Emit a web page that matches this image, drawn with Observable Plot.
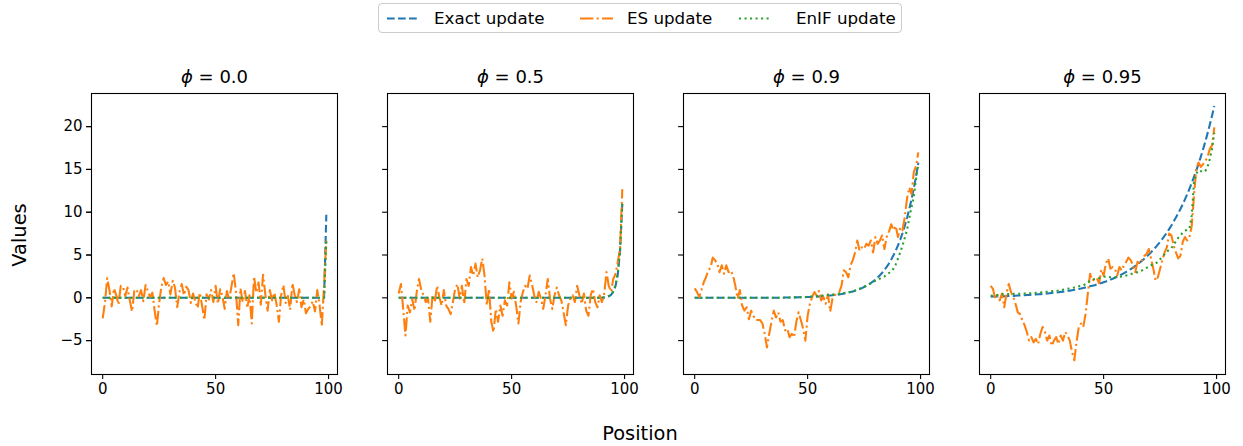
<!DOCTYPE html>
<html>
<head>
<meta charset="utf-8">
<script src="https://cdn.jsdelivr.net/npm/d3@7"></script>
<script src="https://cdn.jsdelivr.net/npm/@observablehq/plot@0.6"></script>
<style>
  body { margin: 0; background: #fff; font-family: "DejaVu Sans", sans-serif; }
  #wrap { position: relative; width: 1243px; height: 446px; }
  #legend { position: absolute; left: 378px; top: 3px; width: 524px; height: 30px; box-sizing: border-box;
            border: 1px solid #cccccc; border-radius: 4px; background: #fff; font-size: 16.7px; color: #000; }
  .lg-item { position: absolute; top: 0; height: 28px; line-height: 28px; white-space: nowrap; }
  .lbl { position: absolute; font-size: 19.4px; color: #000; white-space: nowrap; }
</style>
</head>
<body>
<div id="wrap"></div>
<script>
// ---- categories ----
const phis = ["0.0", "0.5", "0.9", "0.95"];
const seriesNames = ["Exact update", "ES update", "EnIF update"];
const seriesColors = ["#1f77b4", "#ff7f0e", "#2ca02c"];
const xTicks = [0, 50, 100];
const yTicks = [-5, 0, 5, 10, 15, 20];

// ---- phi = 0.0 ----
const exact0 = [0,0,0,0,0,0,0,0,0,0, 0,0,0,0,0,0,0,0,0,0, 0,0,0,0,0,0,0,0,0,0, 0,0,0,0,0,0,0,0,0,0, 0,0,0,0,0,0,0,0,0,0,
  0,0,0,0,0,0,0,0,0,0, 0,0,0,0,0,0,0,0,0,0, 0,0,0,0,0,0,0,0,0,0, 0,0,0,0,0,0,0,0,0,0, 0,0,0,0,0,0,0,0,0,9.7];
const es0 = [-2.4,-0.6,2.3,0.9,-1.0,1.1,0.3,-0.8,1.4,1.3,
  0.2,1.2,-0.3,-1.6,0.8,1.0,0.2,0.9,-0.4,1.5,
  0.8,0.1,0.6,-1.5,-3.3,-0.6,1.3,2.3,1.5,1.9,
  0.4,2.0,1.2,-1.1,0.7,1.6,0.3,1.3,0.9,-0.6,
  0.5,-0.4,-1.2,0.6,-0.9,-2.6,0.4,-0.2,0.9,-0.5,
  1.4,-0.7,1.0,0.2,-1.3,0.8,-0.2,1.3,2.9,0.7,
  -3.2,1.1,-0.5,0.8,-1.2,0.3,-3.0,2.5,0.6,1.8,
  -0.8,2.7,0.4,-1.5,0.9,-0.3,0.6,-0.8,-2.8,0.3,
  1.5,-0.6,0.2,-1.4,1.7,0.3,-0.5,1.0,-1.1,-0.2,
  -1.8,-1.3,-1.0,-0.4,-1.6,0.9,-0.8,-3.3,1.5,6.7];
const enif0 = [0,0,0,0,0,0,0,0,0,0, 0,0,0,0,0,0,0,0,0,0, 0,0,0,0,0,0,0,0,0,0, 0,0,0,0,0,0,0,0,0,0, 0,0,0,0,0,0,0,0,0,0,
  0,0,0,0,0,0,0,0,0,0, 0,0,0,0,0,0,0,0,0,0, 0,0,0,0,0,0,0,0,0,0, 0,0,0,0,0,0,0,0,0,0, 0,0,0,0,0,0,0,0,0,6.6];

// ---- phi = 0.5 ----
const exact1 = [0,0,0,0,0,0,0,0,0,0, 0,0,0,0,0,0,0,0,0,0, 0,0,0,0,0,0,0,0,0,0, 0,0,0,0,0,0,0,0,0,0, 0,0,0,0,0,0,0,0,0,0,
  0,0,0,0,0,0,0,0,0,0, 0,0,0,0,0,0,0,0,0,0, 0,0,0,0,0,0,0,0,0,0, 0,0,0,0,0,0,0,0,0,0.01, 0.02,0.04,0.09,0.17,0.34,0.69,1.38,2.75,5.5,11.0];
const es1 = [0.5,1.6,-1.3,-4.4,-0.9,-1.7,-0.1,-1.5,0.7,2.2,
  0.9,0.3,-0.5,-0.1,-2.8,0.3,-0.5,1.4,0.1,-0.9,
  0.9,-0.9,-1.3,-1.9,-0.5,1.05,1.6,-0.1,1.4,-0.7,
  2.2,1.4,3.6,2.6,4.0,2.4,3.2,4.6,2.6,-0.9,
  1.05,-2.8,-4.0,-1.3,-2.8,-0.9,-2.1,-0.3,-0.9,1.8,
  -0.1,0.7,-0.9,-3.0,-0.5,0.7,1.4,1.05,2.6,1.6,
  0.3,-0.5,0.7,-0.1,-1.3,0.3,2.2,-0.1,-1.3,0.3,
  1.2,0.3,-0.3,-1.7,-3.2,-0.9,-0.1,0.3,-0.5,1.4,
  0.3,-0.7,0.5,-1.5,-2.1,0.3,1.05,-0.5,-1.1,0.3,
  -0.5,0.5,3.0,1.4,0.7,2.2,2.8,4.2,5.7,12.7];
const enif1 = [0,0,0,0,0,0,0,0,0,0, 0,0,0,0,0,0,0,0,0,0, 0,0,0,0,0,0,0,0,0,0, 0,0,0,0,0,0,0,0,0,0, 0,0,0,0,0,0,0,0,0,0,
  0,0,0,0,0,0,0,0,0,0, 0,0,0,0,0,0,0,0,0,0, 0,0,0,0,0,0,0,0,0,0, 0,0,0,0,0,0,0,0,0,0.01, 0.03,0.05,0.1,0.2,0.4,0.8,1.5,2.9,5.7,11.2];

// ---- phi = 0.9 ----
const exact2 = [0,0,0,0,0,0,0,0,0,0, 0,0,0,0,0,0,0,0,0,0, 0,0,0,0,0,0,0,0,0,0, 0,0,0,0,0,0,0,0,0,0,
  0.03,0.03,0.04,0.04,0.05,0.05,0.06,0.06,0.07,0.08,
  0.09,0.10,0.11,0.12,0.14,0.15,0.17,0.19,0.21,0.23,
  0.26,0.29,0.32,0.36,0.40,0.44,0.49,0.54,0.60,0.67,
  0.74,0.83,0.92,1.02,1.13,1.26,1.40,1.56,1.73,1.92,
  2.13,2.37,2.63,2.93,3.25,3.61,4.01,4.46,4.96,5.51,
  6.12,6.80,7.56,8.40,9.33,10.37,11.52,12.80,14.22,15.8];
const es2 = [1.1,0.7,0.1,0.9,1.8,2.4,3.2,3.5,4.7,4.4,
  4.0,3.0,3.8,2.8,3.8,3.0,3.2,2.6,1.4,-0.1,
  0.9,-0.9,-1.5,-1.1,-2.5,-1.5,-2.1,-2.6,-2.6,-2.6,
  -3.0,-4.2,-5.8,-4.2,-2.8,-1.5,-2.3,-1.7,-2.8,-2.6,
  -3.8,-3.6,-4.6,-4.2,-4.6,-2.8,-1.7,-2.6,-3.6,-5.0,
  -2.1,-0.7,0.1,0.66,0.27,0.8,-0.3,0.1,-0.7,0.4,
  -1.6,-0.1,0.3,0.5,0.66,1.4,3.2,3.0,2.4,3.8,
  4.4,5.3,6.7,5.5,5.9,5.7,6.3,6.1,6.7,5.3,
  7.1,6.3,6.7,7.3,5.7,7.1,7.7,8.6,7.9,8.4,
  7.1,8.2,7.9,9.4,11.6,12.9,12.1,14.7,15.4,17.0];
const enif2 = [0,0,0,0,0,0,0,0,0,0, 0,0,0,0,0,0,0,0,0,0, 0,0,0,0,0,0,0,0,0,0, 0,0,0,0,0,0,0,0,0,0,
  0.03,0.03,0.04,0.04,0.05,0.06,0.07,0.08,0.09,0.1,
  0.11,0.13,0.15,0.17,0.2,0.22,0.25,0.28,0.3,0.33,
  0.36,0.39,0.42,0.45,0.48,0.52,0.56,0.6,0.65,0.7,
  0.78,0.86,0.95,1.05,1.15,1.28,1.42,1.56,1.7,1.85,
  2.0,2.1,2.25,2.4,2.5,2.7,2.9,3.1,3.4,3.9,
  4.6,5.3,6.1,7.0,7.9,9.3,10.6,11.8,13.9,15.6];

// ---- phi = 0.95 ----
const exact3 = [0.14,0.145,0.15,0.16,0.17,0.18,0.19,0.20,0.21,0.22,
  0.23,0.25,0.26,0.27,0.29,0.30,0.32,0.33,0.35,0.37,
  0.39,0.41,0.43,0.46,0.48,0.50,0.53,0.56,0.59,0.62,
  0.65,0.69,0.72,0.76,0.80,0.84,0.89,0.93,0.98,1.04,
  1.09,1.15,1.21,1.27,1.34,1.41,1.48,1.56,1.64,1.73,
  1.82,1.91,2.01,2.12,2.23,2.35,2.47,2.60,2.74,2.88,
  3.03,3.19,3.36,3.54,3.72,3.92,4.12,4.34,4.57,4.81,
  5.06,5.33,5.61,5.90,6.21,6.54,6.88,7.25,7.63,8.03,
  8.45,8.90,9.37,9.86,10.38,10.92,11.50,12.10,12.74,13.41,
  14.12,14.86,15.64,16.47,17.33,18.24,19.21,20.22,21.28,22.4];
const es3 = [1.4,1.05,-0.1,0.3,-0.3,0.5,-1.1,0.5,1.6,0.66,
  0.1,-0.7,-1.7,-1.9,-2.6,-3.2,-4.0,-5.0,-4.6,-5.2,
  -4.8,-5.4,-4.2,-3.4,-4.0,-5.0,-4.4,-5.6,-5.0,-4.6,
  -5.4,-4.4,-5.0,-4.0,-4.4,-5.0,-6.3,-7.3,-5.2,-3.4,
  -3.0,-3.4,-1.9,0.5,2.8,2.0,2.2,2.3,1.7,3.3,
  2.6,4.0,4.6,3.4,3.6,3.4,2.6,3.6,3.2,3.8,
  4.2,4.7,4.4,3.8,3.0,4.2,4.0,4.4,4.9,5.1,
  5.7,4.6,3.4,2.0,2.4,3.4,4.4,5.3,5.9,7.5,
  7.3,6.1,5.3,4.6,4.9,6.5,7.1,6.7,7.1,8.4,
  11.9,15.1,15.8,15.3,15.6,16.0,16.4,17.4,17.8,19.9];
const enif3 = [0.25,0.27,0.3,0.33,0.36,0.4,0.42,0.43,0.44,0.45,
  0.46,0.47,0.48,0.48,0.49,0.5,0.5,0.52,0.54,0.56,
  0.58,0.6,0.62,0.65,0.68,0.71,0.74,0.77,0.8,0.83,
  0.86,0.9,0.95,1.0,1.05,1.1,1.15,1.2,1.27,1.35,
  1.4,1.45,1.6,1.8,2.0,2.1,2.2,2.25,2.3,2.4,
  2.45,2.5,2.45,2.4,2.4,2.4,2.4,2.45,2.5,2.55,
  2.6,2.65,2.75,2.85,2.95,3.0,3.1,3.2,3.35,3.5,
  3.65,3.8,3.9,4.0,4.2,4.5,4.8,5.1,5.4,5.6,
  5.8,6.2,6.6,7.0,7.3,7.6,7.8,8.0,8.1,9.6,
  13.5,14.5,14.9,14.8,14.7,14.8,15.3,16.2,17.4,19.3];

// ---- build a long table ----
const exactAll = [exact0, exact1, exact2, exact3];
const esAll = [es0, es1, es2, es3];
const enifAll = [enif0, enif1, enif2, enif3];
const rows = [];
phis.forEach((phi, i) => {
  [exactAll[i], esAll[i], enifAll[i]].forEach((arr, s) => {
    arr.forEach((v, pos) => rows.push({phi, pos, value: v, series: seriesNames[s]}));
  });
});

const lw = 2.08;
const dashes = [`${3.7*lw},${1.6*lw}`, `${6.4*lw},${1.6*lw},${1*lw},${1.6*lw}`, `${1*lw},${1.65*lw}`];

const lineMarks = seriesNames.map((name, s) =>
  Plot.line(rows.filter(r => r.series === name), {
    x: "pos", y: "value", fx: "phi",
    stroke: seriesColors[s], strokeWidth: lw, strokeDasharray: dashes[s],
    strokeLinecap: "butt", strokeLinejoin: "round"
  })
);

const chart = Plot.plot({
  width: 1243, height: 446,
  marginTop: 93, marginBottom: 72, marginLeft: 91, marginRight: 18,
  style: {fontFamily: "DejaVu Sans", color: "#000", background: "#fff"},
  fx: {domain: phis, axis: null, paddingInner: 50/296, paddingOuter: 0},
  x: {domain: [-4.95, 103.95]},
  y: {domain: [-8.96, 23.87]},
  marks: [
    ...lineMarks,
    Plot.frame({stroke: "#000", strokeWidth: 1.1}),
    Plot.axisX({ticks: xTicks, tickSize: 4.9, tickPadding: 4, fontSize: 15, label: null, strokeWidth: 1.1}),
    Plot.axisY({ticks: yTicks, tickSize: 4.9, tickPadding: 4, fontSize: 15, label: null, strokeWidth: 1.1}),
    Plot.axisY({ticks: yTicks, tickSize: 4.9, tickFormat: () => "", label: null, strokeWidth: 1.1, facetAnchor: null}),
    Plot.text(phis, {fx: d => d, text: d => `ϕ = ${d}`, frameAnchor: "top", dy: -11, lineAnchor: "bottom", fontSize: 18})
  ]
});

// italic phi in the facet titles
chart.querySelectorAll("text").forEach(t => {
  const s = t.textContent;
  if (s.startsWith("ϕ = ")) {
    const val = s.slice(4);
    t.textContent = "";
    const ts = document.createElementNS("http://www.w3.org/2000/svg", "tspan");
    ts.setAttribute("font-style", "italic");
    ts.textContent = "ϕ";
    t.appendChild(ts);
    t.appendChild(document.createTextNode(" = " + val));
  }
});

const wrap = document.getElementById("wrap");
wrap.appendChild(chart);

// legend
const legend = document.createElement("div");
legend.id = "legend";
const handleX = [8, 201, 360];
const textX = [55, 248, 417];
seriesNames.forEach((name, s) => {
  const h = document.createElement("div");
  h.className = "lg-item";
  h.style.left = handleX[s] + "px";
  h.innerHTML = `<svg width="33" height="28" style="display:block"><line x1="0" x2="33" y1="14.5" y2="14.5" stroke="${seriesColors[s]}" stroke-width="${lw}" stroke-dasharray="${dashes[s]}"/></svg>`;
  legend.appendChild(h);
  const t = document.createElement("div");
  t.className = "lg-item";
  t.style.left = textX[s] + "px";
  t.textContent = name;
  legend.appendChild(t);
});
wrap.appendChild(legend);

// axis labels
const xl = document.createElement("div");
xl.className = "lbl";
xl.textContent = "Position";
xl.style.left = "640px"; xl.style.top = "433px";
xl.style.transform = "translate(-50%, -50%)";
wrap.appendChild(xl);

const yl = document.createElement("div");
yl.className = "lbl";
yl.textContent = "Values";
yl.style.left = "19px"; yl.style.top = "235px";
yl.style.transform = "translate(-50%, -50%) rotate(-90deg)";
wrap.appendChild(yl);
</script>
</body>
</html>
